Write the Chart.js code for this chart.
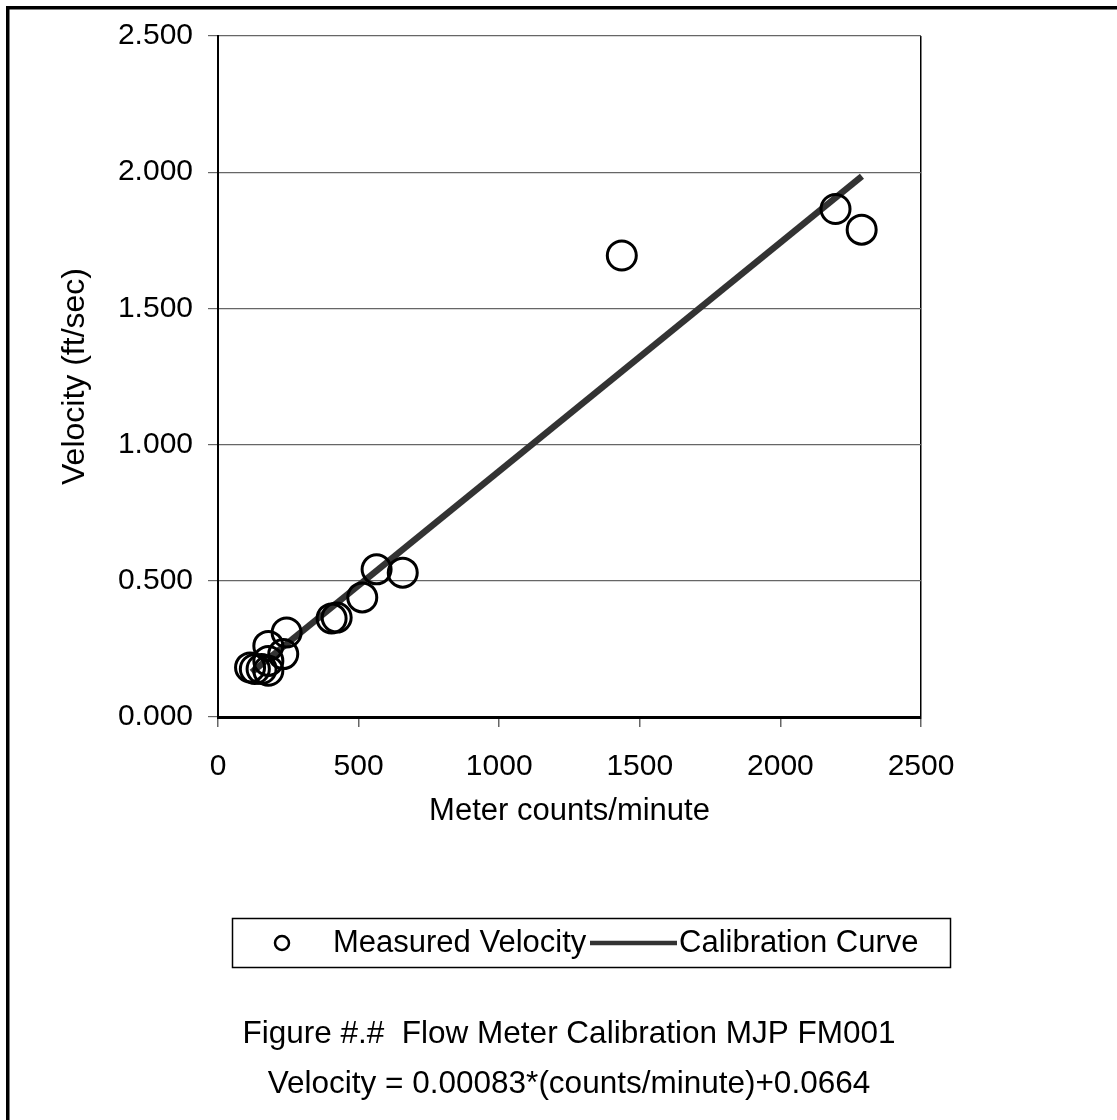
<!DOCTYPE html>
<html lang="en">
<head>
    <meta charset="UTF-8">
    <title>Flow Meter Calibration MJP FM001</title>
    <style>
        * {
            margin: 0;
            padding: 0;
            box-sizing: border-box;
        }

        body {
            background-color: #fff;
        }

        .chart-box {
            position: relative;
            width: 1117px;
            height: 1120px;
        }
    </style>
    <script src="https://cdn.jsdelivr.net/npm/chart.js"></script>
</head>
<body>
    <div class="chart-box">
        <canvas id="calChart"></canvas>
    </div>

    <script>
        // Measured points
        const countsPerMinute = [114, 131, 155, 179, 179, 179, 232, 244, 404, 422, 513, 564, 657, 1436, 2196, 2289];
        const measuredVelocity = [0.182, 0.176, 0.176, 0.170, 0.206, 0.261, 0.231, 0.310, 0.362, 0.365, 0.439, 0.542, 0.530, 1.694, 1.865, 1.789];

        // Calibration line end points
        const curveCounts = [120, 2290];
        const curveVelocity = [0.164, 1.985];

        const xTicks = [0, 500, 1000, 1500, 2000, 2500];
        const yTicks = [0, 0.5, 1.0, 1.5, 2.0, 2.5];

        const captionLines = [
            'Figure #.#  Flow Meter Calibration MJP FM001',
            'Velocity = 0.00083*(counts/minute)+0.0664'
        ];

        const FONT = "'Liberation Sans', Arial, sans-serif";

        // frame, legend box and caption drawn on the canvas
        const extrasPlugin = {
            id: 'extras',
            beforeDraw(chart) {
                const c = chart.ctx;
                c.save();
                c.fillStyle = '#fff';
                c.fillRect(0, 0, chart.width, chart.height);
                c.fillStyle = '#000';
                c.fillRect(6, 6, chart.width - 6, 3.5);
                c.fillRect(6, 6, 3.5, chart.height - 6);
                c.restore();
            },
            afterDraw(chart) {
                const c = chart.ctx;
                const scatter = chart.data.datasets[0];
                const curve = chart.data.datasets[1];
                c.save();

                // legend
                c.strokeStyle = '#000';
                c.lineWidth = 1.5;
                c.strokeRect(232.5, 918.5, 718, 49);
                const ly = 943;
                c.beginPath();
                c.arc(282, ly, 7, 0, Math.PI * 2);
                c.lineWidth = 2.5;
                c.stroke();
                c.font = '31px ' + FONT;
                c.fillStyle = '#000';
                c.textBaseline = 'middle';
                c.textAlign = 'left';
                c.fillText(scatter.label, 333, ly);
                c.beginPath();
                c.moveTo(590, ly);
                c.lineTo(677, ly);
                c.strokeStyle = curve.borderColor;
                c.lineWidth = 4.5;
                c.stroke();
                c.fillText(curve.label, 679, ly);

                // caption
                c.font = '31.5px ' + FONT;
                c.textAlign = 'center';
                c.fillText(captionLines[0], 569, 1034);
                c.fillText(captionLines[1], 569, 1084);
                c.restore();
            }
        };

        const ctx = document.getElementById('calChart').getContext('2d');

        new Chart(ctx, {
            type: 'scatter',
            data: {
                datasets: [
                    {
                        label: 'Measured Velocity',
                        data: countsPerMinute.map((x, i) => ({ x: x, y: measuredVelocity[i] })),
                        pointStyle: 'circle',
                        pointRadius: 14.5,
                        pointBorderWidth: 3,
                        borderColor: '#000',
                        backgroundColor: 'rgba(0,0,0,0)',
                        showLine: false,
                        order: 0
                    },
                    {
                        label: 'Calibration Curve',
                        data: curveCounts.map((x, i) => ({ x: x, y: curveVelocity[i] })),
                        showLine: true,
                        borderColor: '#333333',
                        borderWidth: 6.5,
                        pointRadius: 0,
                        order: 1
                    }
                ]
            },
            options: {
                responsive: true,
                maintainAspectRatio: false,
                animation: false,
                events: [],
                layout: {
                    padding: { left: 0, top: 36, right: 196, bottom: 290 }
                },
                plugins: {
                    legend: { display: false },
                    tooltip: { enabled: false }
                },
                scales: {
                    x: {
                        type: 'linear',
                        min: 0,
                        max: 2500,
                        afterBuildTicks: axis => { axis.ticks = xTicks.map(v => ({ value: v })); },
                        afterFit: axis => { axis.height = 113; },
                        ticks: {
                            color: '#000',
                            font: { family: FONT, size: 30 },
                            padding: 22,
                            maxRotation: 0,
                            callback: v => String(v)
                        },
                        grid: {
                            drawOnChartArea: true,
                            color: c => (c.tick && c.tick.value === 2500) ? '#000' : 'rgba(0,0,0,0)',
                            lineWidth: 1.5,
                            tickColor: '#666',
                            tickLength: 10,
                            tickWidth: 1.5
                        },
                        border: { color: '#000', width: 3 },
                        title: {
                            display: true,
                            text: 'Meter counts/minute',
                            color: '#000',
                            font: { family: FONT, size: 31 },
                            padding: { top: 0, bottom: 0 }
                        }
                    },
                    y: {
                        type: 'linear',
                        min: 0,
                        max: 2.5,
                        afterBuildTicks: axis => { axis.ticks = yTicks.map(v => ({ value: v })); },
                        afterFit: axis => { axis.width = 218; },
                        ticks: {
                            color: '#000',
                            font: { family: FONT, size: 30 },
                            padding: 15,
                            callback: v => Number(v).toFixed(3)
                        },
                        grid: {
                            color: '#666',
                            lineWidth: 1.2,
                            tickColor: '#666',
                            tickLength: 10
                        },
                        border: { color: '#000', width: 2 },
                        title: {
                            display: true,
                            text: 'Velocity (ft/sec)',
                            color: '#000',
                            font: { family: FONT, size: 32 },
                            padding: { top: 56, bottom: 0 }
                        }
                    }
                }
            },
            plugins: [extrasPlugin]
        });
    </script>
</body>
</html>
